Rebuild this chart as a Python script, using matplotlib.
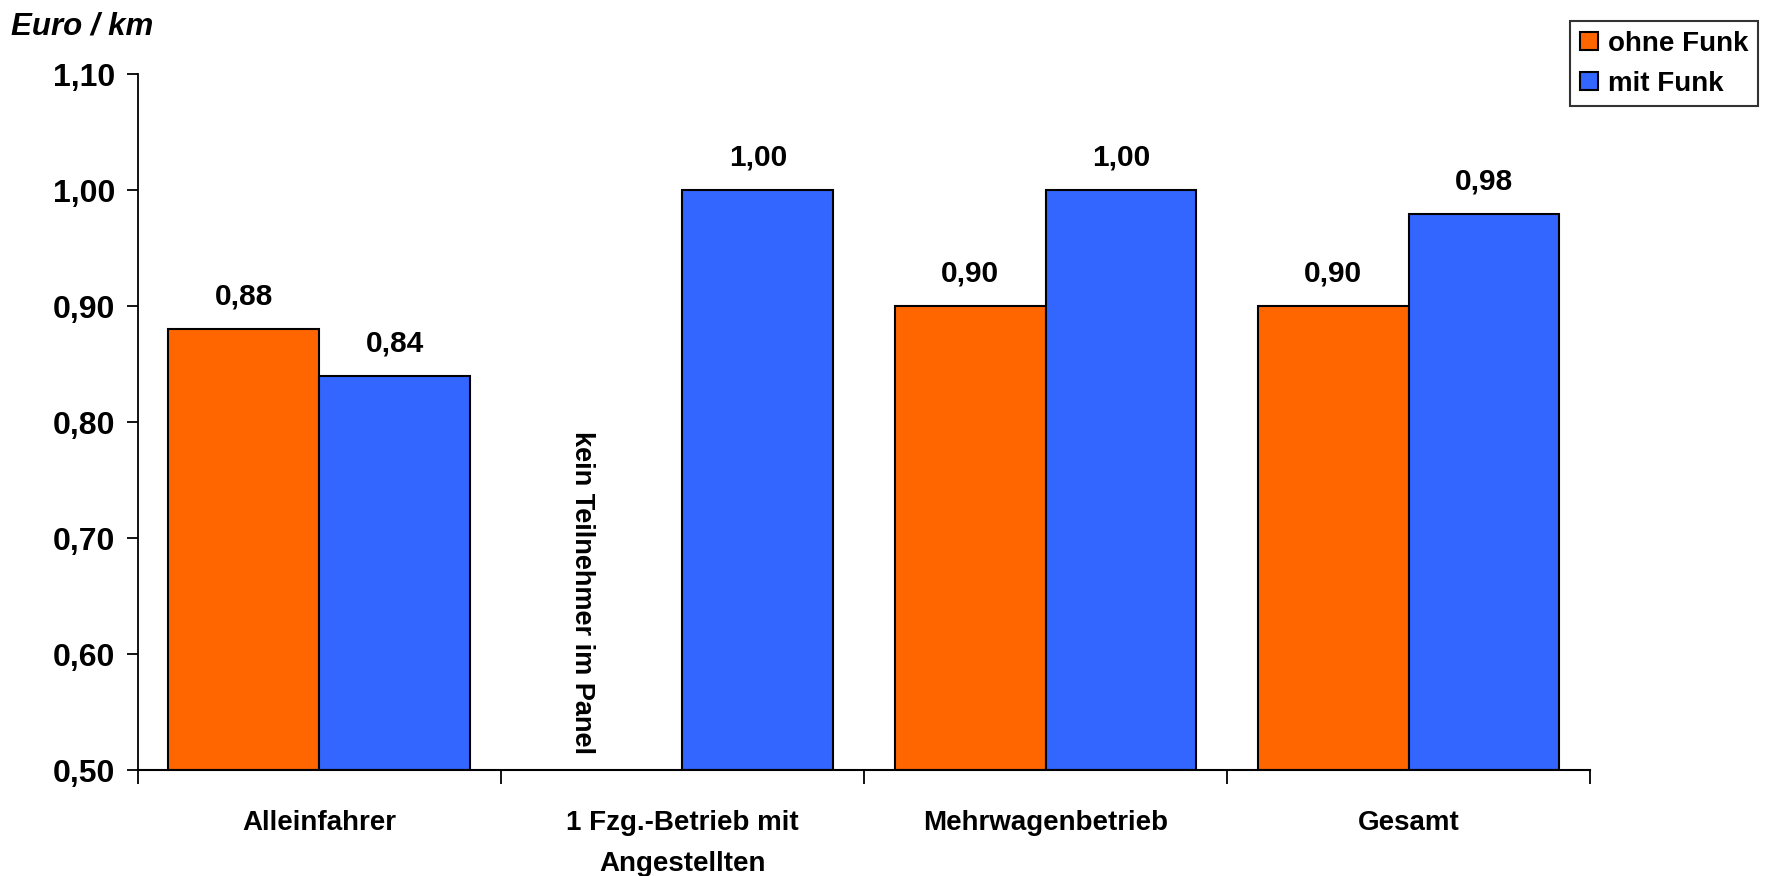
import matplotlib
matplotlib.use("Agg")
import matplotlib.pyplot as plt
import numpy as np

categories = ["Alleinfahrer", "1 Fzg.-Betrieb mit\nAngestellten", "Mehrwagenbetrieb", "Gesamt"]
series_names = ["ohne Funk", "mit Funk"]
ohne_funk = [0.88, None, 0.90, 0.90]
mit_funk = [0.84, 1.00, 1.00, 0.98]
yticks = [0.50, 0.60, 0.70, 0.80, 0.90, 1.00, 1.10]
missing_note = "kein Teilnehmer im Panel"
ylabel = "Euro / km"
colors = ["#FF6600", "#3366FF"]

plt.rcParams['font.family'] = ['Liberation Sans', 'DejaVu Sans']
plt.rcParams['font.weight'] = 'bold'

fig = plt.figure(figsize=(17.69, 8.76), dpi=100)
ax = fig.add_axes([0.0778, 0.121, 0.8212, 0.794])

x = np.arange(len(categories))
w = 0.415
for k, (vals, col) in enumerate(zip([ohne_funk, mit_funk], colors)):
    off = (k - 0.5) * w
    for i, v in enumerate(vals):
        if v is None:
            ax.text(x[i] + off - 0.07, 0.514, missing_note, rotation=270, ha='center', va='bottom',
                    fontsize=19.5, fontweight='bold')
            continue
        ax.bar(x[i] + off, v - 0.5, bottom=0.5, width=w, color=col, edgecolor='black',
               linewidth=1.5, label=series_names[k] if i == 0 else None, zorder=2)
        ax.text(x[i] + off, v + 0.016, f"{v:.2f}".replace('.', ','), ha='center', va='bottom',
                fontsize=21.5, fontweight='bold')

ax.set_ylim(0.5, 1.1)
ax.set_xlim(-0.5, len(categories) - 0.5)
ax.set_yticks(yticks)
ax.set_yticklabels([f"{t:.2f}".replace('.', ',') for t in yticks], fontsize=23, fontweight='bold')
ax.set_xticks(np.arange(-0.5, len(categories), 1.0))
ax.set_xticklabels([])
ax.set_xticks(x, minor=True)
ax.set_xticklabels(categories, minor=True, fontsize=20, fontweight='bold', linespacing=1.75)
ax.tick_params(axis='x', which='minor', length=0, pad=29)
ax.tick_params(axis='x', which='major', direction='out', length=10, width=1.3)
ax.tick_params(axis='y', direction='out', length=8, width=1.3, pad=8)
for s in ['top', 'right']:
    ax.spines[s].set_visible(False)
ax.spines['left'].set_linewidth(1.3)
ax.spines['bottom'].set_linewidth(1.5)

fig.text(0.006, 0.97, ylabel, fontsize=22.5, fontweight='bold', fontstyle='italic', va='center', ha='left')

leg = fig.legend(loc='upper right', bbox_to_anchor=(0.9938, 0.976), fontsize=20,
                 frameon=True, fancybox=False, edgecolor='black', handlelength=0.65,
                 handleheight=0.65, handletextpad=0.35, borderpad=0.35, labelspacing=0.5,
                 borderaxespad=0)
leg.get_frame().set_linewidth(1.5)
for t in leg.get_texts():
    t.set_fontweight('bold')

fig.savefig("out.png", dpi=100)
